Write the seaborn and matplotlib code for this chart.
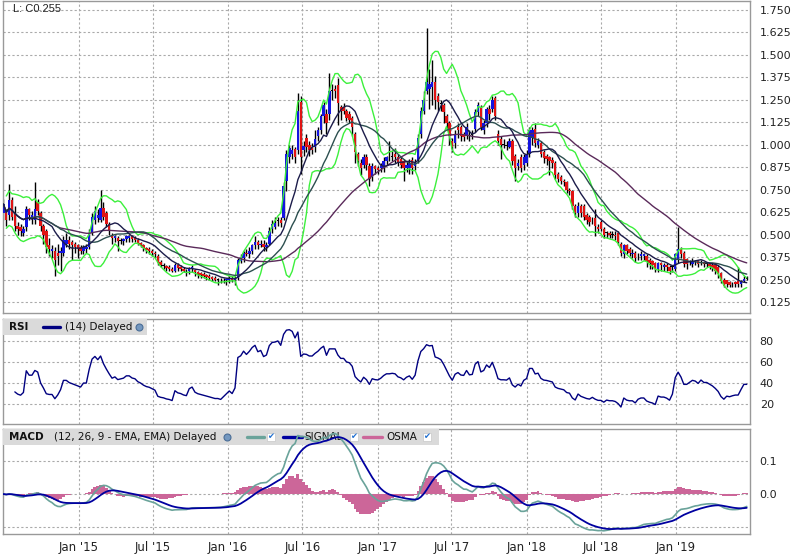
import matplotlib
matplotlib.use("Agg")
import matplotlib.pyplot as plt
from matplotlib.patches import Rectangle
from matplotlib.lines import Line2D
import seaborn as sns
import pandas as pd
import numpy as np

sns.set_style("white")
plt.rcParams['font.family'] = ['DejaVu Sans']

# weekly candles (Mondays, Jun 2014 .. Jun 2019)
weeks = pd.date_range("2014-06-30", periods=261, freq="7D")

opens = [
    0.62, 0.63, 0.61, 0.69, 0.62, 0.55, 0.54, 0.51, 0.54, 0.64,
    0.59, 0.58, 0.68, 0.62, 0.55, 0.52, 0.44, 0.41, 0.41, 0.40,
    0.40, 0.40, 0.45, 0.47, 0.46, 0.45, 0.44, 0.43, 0.41, 0.42,
    0.43, 0.51, 0.58, 0.59, 0.58, 0.65, 0.62, 0.56, 0.50, 0.48,
    0.48, 0.465, 0.465, 0.475, 0.48, 0.49, 0.48, 0.47, 0.455, 0.44,
    0.425, 0.42, 0.41, 0.40, 0.38, 0.345, 0.33, 0.325, 0.32, 0.31,
    0.30, 0.33, 0.32, 0.31, 0.30, 0.30, 0.31, 0.305, 0.29, 0.285,
    0.28, 0.275, 0.27, 0.265, 0.26, 0.255, 0.25, 0.245, 0.245, 0.25,
    0.26, 0.25, 0.26, 0.355, 0.37, 0.40, 0.39, 0.41, 0.44, 0.46,
    0.44, 0.45, 0.43, 0.45, 0.53, 0.545, 0.575, 0.58, 0.59, 0.80,
    0.93, 0.95, 0.975, 0.97, 1.24, 0.97, 1.04, 1.00, 0.99, 0.99,
    1.05, 1.08, 1.16, 1.17, 1.17, 1.30, 1.31, 1.33, 1.21, 1.21,
    1.19, 1.17, 1.15, 1.06, 0.95, 0.90, 0.89, 0.93, 0.88, 0.82,
    0.88, 0.87, 0.87, 0.87, 0.91, 0.93, 0.93, 0.95, 0.93, 0.92,
    0.91, 0.87, 0.87, 0.915, 0.88, 0.915, 1.06, 1.19, 1.30, 1.31,
    1.32, 1.35, 1.27, 1.23, 1.22, 1.16, 1.12, 1.02, 1.01, 1.10,
    1.10, 1.06, 1.05, 1.05, 1.06, 1.09, 1.18, 1.21, 1.08, 1.12,
    1.20, 1.20, 1.26, 1.06, 1.03, 1.005, 1.00, 0.99, 1.02, 0.94,
    0.88, 0.93, 0.89, 0.90, 0.95, 1.04, 1.09, 1.00, 1.01, 0.96,
    0.935, 0.93, 0.915, 0.90, 0.84, 0.82, 0.80, 0.79, 0.75, 0.74,
    0.66, 0.62, 0.66, 0.66, 0.61, 0.60, 0.58, 0.59, 0.54, 0.57,
    0.53, 0.51, 0.51, 0.50, 0.50, 0.51, 0.45, 0.39, 0.44, 0.42,
    0.39, 0.40, 0.385, 0.38, 0.38, 0.38, 0.36, 0.355, 0.34, 0.31,
    0.34, 0.32, 0.33, 0.32, 0.32, 0.31, 0.36, 0.42, 0.40, 0.365,
    0.345, 0.335, 0.35, 0.355, 0.345, 0.345, 0.34, 0.335, 0.33, 0.33,
    0.32, 0.285, 0.25, 0.245, 0.235, 0.225, 0.235, 0.24, 0.225, 0.24,
    0.258,
]
highs = [
    0.70, 0.64, 0.78, 0.71, 0.66, 0.57, 0.56, 0.55, 0.66, 0.65,
    0.63, 0.79, 0.70, 0.63, 0.56, 0.53, 0.48, 0.44, 0.43, 0.45,
    0.43, 0.49, 0.51, 0.49, 0.47, 0.46, 0.45, 0.44, 0.44, 0.45,
    0.53, 0.62, 0.66, 0.64, 0.75, 0.68, 0.63, 0.57, 0.51, 0.50,
    0.49, 0.48, 0.48, 0.50, 0.50, 0.50, 0.49, 0.48, 0.46, 0.45,
    0.43, 0.43, 0.42, 0.41, 0.39, 0.36, 0.34, 0.33, 0.33, 0.32,
    0.34, 0.34, 0.33, 0.32, 0.31, 0.32, 0.33, 0.31, 0.30, 0.29,
    0.29, 0.28, 0.28, 0.27, 0.27, 0.26, 0.26, 0.26, 0.26, 0.27,
    0.27, 0.27, 0.37, 0.39, 0.41, 0.42, 0.43, 0.45, 0.49, 0.47,
    0.47, 0.47, 0.46, 0.54, 0.58, 0.60, 0.60, 0.60, 0.79, 0.97,
    1.00, 1.00, 0.99, 1.29, 1.27, 1.02, 1.06, 1.02, 1.01, 1.08,
    1.10, 1.17, 1.24, 1.20, 1.40, 1.34, 1.33, 1.37, 1.22, 1.23,
    1.20, 1.19, 1.16, 1.07, 0.96, 0.92, 0.95, 0.95, 0.90, 0.90,
    0.89, 0.88, 0.90, 0.93, 0.94, 1.02, 0.97, 0.98, 0.95, 0.93,
    0.92, 0.91, 0.92, 0.93, 0.92, 1.06, 1.21, 1.30, 1.65, 1.42,
    1.47, 1.38, 1.29, 1.25, 1.23, 1.17, 1.13, 1.04, 1.08, 1.12,
    1.11, 1.07, 1.12, 1.08, 1.08, 1.20, 1.24, 1.22, 1.14, 1.21,
    1.22, 1.27, 1.27, 1.08, 1.05, 1.03, 1.02, 1.04, 1.03, 0.95,
    0.92, 0.95, 0.95, 0.97, 1.10, 1.10, 1.12, 1.04, 1.02, 0.97,
    0.95, 0.94, 0.93, 0.91, 0.85, 0.83, 0.81, 0.80, 0.76, 0.75,
    0.67, 0.68, 0.67, 0.67, 0.62, 0.61, 0.60, 0.64, 0.56, 0.58,
    0.54, 0.52, 0.52, 0.52, 0.52, 0.52, 0.46, 0.45, 0.45, 0.43,
    0.42, 0.41, 0.40, 0.41, 0.40, 0.39, 0.37, 0.36, 0.35, 0.35,
    0.35, 0.34, 0.34, 0.33, 0.33, 0.40, 0.54, 0.43, 0.41, 0.37,
    0.36, 0.37, 0.36, 0.36, 0.36, 0.35, 0.35, 0.34, 0.34, 0.34,
    0.33, 0.29, 0.26, 0.25, 0.24, 0.235, 0.24, 0.32, 0.25, 0.27,
    0.27,
]
lows = [
    0.58, 0.55, 0.58, 0.58, 0.52, 0.50, 0.49, 0.49, 0.52, 0.58,
    0.56, 0.56, 0.61, 0.52, 0.45, 0.40, 0.38, 0.37, 0.27, 0.33,
    0.30, 0.38, 0.43, 0.42, 0.36, 0.40, 0.37, 0.39, 0.39, 0.40,
    0.42, 0.50, 0.56, 0.57, 0.57, 0.58, 0.54, 0.50, 0.45, 0.46,
    0.41, 0.45, 0.44, 0.46, 0.46, 0.46, 0.46, 0.44, 0.43, 0.41,
    0.40, 0.39, 0.38, 0.37, 0.33, 0.32, 0.31, 0.30, 0.30, 0.29,
    0.29, 0.30, 0.30, 0.29, 0.27, 0.28, 0.29, 0.27, 0.26, 0.26,
    0.26, 0.25, 0.25, 0.24, 0.24, 0.22, 0.23, 0.23, 0.22, 0.23,
    0.235, 0.22, 0.25, 0.34, 0.35, 0.38, 0.37, 0.39, 0.42, 0.42,
    0.43, 0.41, 0.41, 0.44, 0.51, 0.53, 0.55, 0.54, 0.58, 0.74,
    0.90, 0.92, 0.90, 0.95, 0.84, 0.94, 0.96, 0.94, 0.95, 0.96,
    1.02, 1.06, 1.12, 1.06, 1.14, 1.25, 1.26, 1.11, 1.14, 1.17,
    1.13, 1.12, 1.05, 0.90, 0.88, 0.83, 0.87, 0.86, 0.77, 0.80,
    0.84, 0.84, 0.85, 0.85, 0.89, 0.91, 0.91, 0.90, 0.88, 0.87,
    0.80, 0.85, 0.84, 0.84, 0.86, 0.90, 1.04, 1.17, 1.28, 1.20,
    1.22, 1.20, 1.19, 1.19, 1.12, 1.08, 1.00, 0.96, 0.98, 1.04,
    1.02, 1.02, 1.03, 1.02, 1.03, 1.07, 1.16, 1.08, 1.06, 1.10,
    1.14, 1.18, 1.14, 1.00, 0.92, 0.98, 0.97, 0.98, 0.89, 0.80,
    0.86, 0.85, 0.86, 0.88, 0.93, 1.00, 0.99, 0.98, 0.93, 0.90,
    0.89, 0.83, 0.87, 0.81, 0.79, 0.78, 0.77, 0.73, 0.72, 0.64,
    0.60, 0.60, 0.60, 0.58, 0.56, 0.55, 0.56, 0.49, 0.51, 0.52,
    0.48, 0.48, 0.48, 0.48, 0.47, 0.44, 0.38, 0.37, 0.39, 0.38,
    0.37, 0.35, 0.36, 0.36, 0.36, 0.32, 0.31, 0.31, 0.29, 0.29,
    0.30, 0.30, 0.30, 0.28, 0.29, 0.30, 0.34, 0.37, 0.32, 0.31,
    0.33, 0.32, 0.33, 0.32, 0.33, 0.32, 0.32, 0.31, 0.30, 0.28,
    0.26, 0.23, 0.21, 0.21, 0.21, 0.21, 0.21, 0.21, 0.21, 0.235,
    0.245,
]
closes = [
    0.67, 0.58, 0.69, 0.60, 0.55, 0.53, 0.52, 0.53, 0.64, 0.61,
    0.61, 0.64, 0.63, 0.55, 0.50, 0.43, 0.42, 0.42, 0.36, 0.38,
    0.41, 0.47, 0.47, 0.45, 0.44, 0.43, 0.42, 0.41, 0.43, 0.43,
    0.51, 0.60, 0.63, 0.61, 0.65, 0.60, 0.56, 0.52, 0.48, 0.49,
    0.465, 0.47, 0.475, 0.49, 0.49, 0.475, 0.47, 0.45, 0.44, 0.425,
    0.415, 0.41, 0.40, 0.39, 0.34, 0.33, 0.325, 0.315, 0.31, 0.30,
    0.33, 0.315, 0.31, 0.30, 0.295, 0.315, 0.32, 0.29, 0.28, 0.275,
    0.27, 0.265, 0.26, 0.255, 0.25, 0.25, 0.245, 0.25, 0.255, 0.26,
    0.25, 0.26, 0.36, 0.37, 0.40, 0.39, 0.41, 0.44, 0.46, 0.44,
    0.45, 0.43, 0.44, 0.52, 0.56, 0.565, 0.58, 0.565, 0.77, 0.95,
    0.98, 0.97, 0.93, 1.19, 0.93, 0.995, 0.99, 0.97, 0.97, 1.03,
    1.08, 1.16, 1.22, 1.12, 1.30, 1.30, 1.30, 1.23, 1.19, 1.19,
    1.15, 1.14, 1.10, 0.96, 0.91, 0.87, 0.93, 0.89, 0.81, 0.88,
    0.865, 0.86, 0.88, 0.91, 0.93, 0.93, 0.935, 0.93, 0.90, 0.89,
    0.87, 0.89, 0.90, 0.87, 0.90, 1.04, 1.19, 1.25, 1.35, 1.34,
    1.35, 1.25, 1.24, 1.225, 1.18, 1.12, 1.05, 0.99, 1.06, 1.08,
    1.05, 1.045, 1.10, 1.05, 1.055, 1.18, 1.22, 1.10, 1.12, 1.20,
    1.17, 1.25, 1.16, 1.02, 1.00, 1.00, 0.995, 1.02, 0.91, 0.87,
    0.90, 0.87, 0.93, 0.95, 1.08, 1.08, 1.01, 1.02, 0.95, 0.925,
    0.92, 0.91, 0.90, 0.83, 0.81, 0.80, 0.79, 0.75, 0.74, 0.66,
    0.62, 0.66, 0.62, 0.60, 0.58, 0.57, 0.58, 0.55, 0.53, 0.53,
    0.50, 0.51, 0.50, 0.50, 0.49, 0.46, 0.40, 0.44, 0.41, 0.40,
    0.40, 0.37, 0.385, 0.39, 0.39, 0.355, 0.34, 0.33, 0.31, 0.34,
    0.33, 0.33, 0.32, 0.30, 0.32, 0.39, 0.42, 0.39, 0.335, 0.335,
    0.345, 0.355, 0.35, 0.335, 0.35, 0.335, 0.335, 0.325, 0.315, 0.30,
    0.28, 0.24, 0.215, 0.225, 0.22, 0.223, 0.225, 0.225, 0.24, 0.255,
    0.255,
]

price_ticks = np.arange(0.125, 1.76, 0.125)
rsi_ticks = [20, 40, 60, 80]
macd_ticks = [-0.1, 0.0, 0.1]
macd_labels = ["", "0.0", "0.1"]
month_ticks = pd.date_range("2015-01-01", "2019-01-01", freq="6MS")

df = pd.DataFrame({"date": weeks, "open": opens, "high": highs,
                   "low": lows, "close": closes})

# indicators the way the chart builds them
df["ma10"] = df.close.rolling(10, min_periods=1).mean()
df["ma20"] = df.close.rolling(20, min_periods=1).mean()
df["ma50"] = df.close.rolling(50, min_periods=1).mean()
sd = df.close.rolling(10, min_periods=2).std(ddof=0)
df["bb_up"] = df.ma10 + 2 * sd
df["bb_lo"] = df.ma10 - 2 * sd
chg = df.close.diff()
up = chg.clip(lower=0).ewm(alpha=1 / 14, adjust=True, min_periods=4).mean()
dn = (-chg.clip(upper=0)).ewm(alpha=1 / 14, adjust=True, min_periods=4).mean()
df["rsi"] = 100 - 100 / (1 + up / dn)
df["macd"] = df.close.ewm(span=12).mean() - df.close.ewm(span=26).mean()
df["signal"] = df.macd.ewm(span=9).mean()
df["osma"] = df.macd - df.signal

W, H = 796, 559
fig = plt.figure(figsize=(W / 100, H / 100), dpi=100)


def box(top, bottom):
    return [3 / W, 1 - bottom / H, 747 / W, (bottom - top) / H]


def px(x, y):
    return x / W, 1 - y / H


ax = fig.add_axes(box(1, 313))
ax_rsi = fig.add_axes(box(319, 424), sharex=ax)
ax_macd = fig.add_axes(box(429, 534), sharex=ax)

grid_kw = dict(color="#aaaaaa", lw=0.8, ls=(0, (2, 2)))
for a in (ax, ax_rsi, ax_macd):
    for s in a.spines.values():
        s.set_color("#999999")
        s.set_linewidth(1)
    a.yaxis.tick_right()
    a.tick_params(length=0, labelsize=8, labelcolor="#222222", pad=7)
    for d in month_ticks:
        a.axvline(d, zorder=0, **grid_kw)

# candles
for t in price_ticks:
    ax.axhline(t, zorder=0, **grid_kw)
ax.vlines(df.date, df.low, df.high, color="black", lw=1, zorder=2)
body_col = np.where(np.abs(df.close - df.open) < 0.006, "black",
                    np.where(df.close > df.open, "#1414e0", "#e01414"))
body_h = np.maximum(np.abs(df.close - df.open), 0.004)
ax.bar(df.date, body_h, bottom=np.minimum(df.open, df.close), width=6,
       color=body_col, linewidth=0, zorder=3)

sns.lineplot(data=df, x="date", y="bb_up", ax=ax, color="#3cf03c", lw=1, zorder=4)
sns.lineplot(data=df, x="date", y="bb_lo", ax=ax, color="#3cf03c", lw=1, zorder=4)
sns.lineplot(data=df, x="date", y="ma50", ax=ax, color="#5a2a5a", lw=1, zorder=4)
sns.lineplot(data=df, x="date", y="ma20", ax=ax, color="#2c4f4f", lw=1, zorder=4)
sns.lineplot(data=df, x="date", y="ma10", ax=ax, color="#1c1c4a", lw=1, zorder=4)
ax.set_ylim(0.0638, 1.80)
ax.set_yticks(price_ticks)
ax.set_yticklabels([f"{t:.3f}" for t in price_ticks])

# RSI
for t in rsi_ticks:
    ax_rsi.axhline(t, zorder=0, **grid_kw)
sns.lineplot(data=df, x="date", y="rsi", ax=ax_rsi, color="#000080", lw=1, zorder=3)
ax_rsi.set_ylim(1, 101)
ax_rsi.set_yticks(rsi_ticks)

# MACD
for t in macd_ticks:
    ax_macd.axhline(t, zorder=0, **grid_kw)
ax_macd.bar(df.date, df.osma, width=7, color="#cc6699", linewidth=0, zorder=2)
sns.lineplot(data=df, x="date", y="macd", ax=ax_macd, color="#6aa39a", lw=1.2, zorder=5)
sns.lineplot(data=df, x="date", y="signal", ax=ax_macd, color="#0000a0", lw=1.3, zorder=6)
ax_macd.set_ylim(-0.121, 0.197)
ax_macd.set_yticks(macd_ticks)
ax_macd.set_yticklabels(macd_labels)

for a in (ax, ax_rsi, ax_macd):
    a.set_xlabel("")
    a.set_ylabel("")
ax.set_xlim(pd.Timestamp("2014-06-29"), pd.Timestamp("2019-07-02"))
ax_macd.set_xticks(month_ticks)
ax_macd.set_xticklabels([d.strftime("%b '%y") for d in month_ticks])
ax_macd.tick_params(axis="x", labelsize=8.5, pad=5)
ax.tick_params(axis="x", labelbottom=False)
ax_rsi.tick_params(axis="x", labelbottom=False)

# header and legend strips (inside the panels, under the MACD lines)
fig.text(*px(13, 9), "L: C0.255", fontsize=8, family="Liberation Sans",
         color="#222222", va="center")
FT = fig.transFigure


def strip(a, x0, x1, y0, y1):
    a.add_patch(Rectangle(px(x0, y1), (x1 - x0) / W, (y1 - y0) / H, transform=FT,
                          facecolor="#dadada", edgecolor="none", zorder=3.5))


def label(a, x, y, s, bold=False):
    a.text(*px(x, y), s, fontsize=7.5, weight="bold" if bold else "normal",
           va="center", transform=FT, zorder=4, color="#111111")


def sample(a, x0, x1, y, color):
    a.add_line(Line2D([x0 / W, x1 / W], [1 - y / H] * 2, color=color, lw=2.4,
                      transform=FT, zorder=4))


def globe(a, x, y):
    a.add_line(Line2D([x / W], [1 - y / H], marker="o", ms=5, color="#7498c0",
                      mec="#4a6d96", mew=0.8, transform=FT, zorder=4))


def check(a, x, y):
    a.add_patch(Rectangle(px(x - 4, y + 4), 8 / W, 8 / H, transform=FT,
                          facecolor="white", edgecolor="#c8c8c8", lw=0.5, zorder=4))
    a.text(*px(x, y), "\u2714", fontsize=6, color="#1f6fd0", transform=FT,
           ha="center", va="center", zorder=4.5)


strip(ax_rsi, 3, 147, 319, 335)
label(ax_rsi, 9, 327, "RSI", bold=True)
sample(ax_rsi, 43, 60, 327, "#000080")
label(ax_rsi, 65, 327, "(14) Delayed")
globe(ax_rsi, 139, 327)

strip(ax_macd, 3, 439, 429, 445)
label(ax_macd, 9, 437, "MACD", bold=True)
label(ax_macd, 54, 437, "(12, 26, 9 - EMA, EMA) Delayed")
globe(ax_macd, 227, 437)
sample(ax_macd, 247, 264, 437, "#6aa39a")
check(ax_macd, 271, 437)
sample(ax_macd, 283, 302, 437, "#0000a0")
label(ax_macd, 304, 437, "SIGNAL")
check(ax_macd, 354, 437)
sample(ax_macd, 363, 382, 437, "#cc6699")
label(ax_macd, 386, 437, "OSMA")
check(ax_macd, 427, 437)

fig.savefig("out.png", dpi=100)
